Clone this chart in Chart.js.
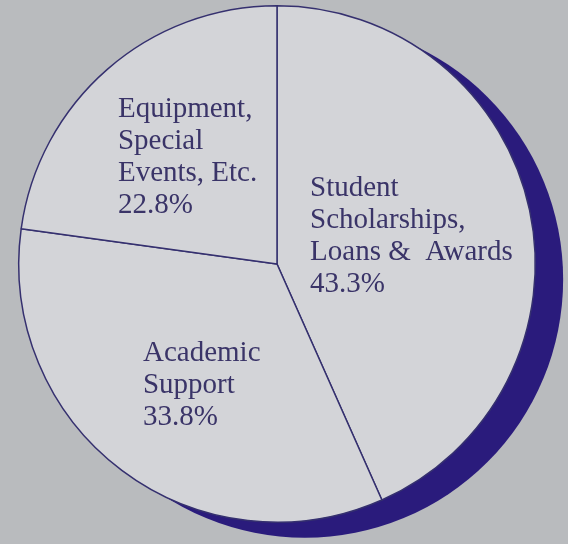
<!DOCTYPE html>
<html>
<head>
<meta charset="utf-8">
<script src="https://cdn.jsdelivr.net/npm/chart.js@4"></script>
<style>
  html, body { margin: 0; padding: 0; background: #b9bbbe; }
  #wrap { width: 568px; height: 544px; position: relative; }
</style>
</head>
<body>
<div id="wrap"><canvas id="c" width="568" height="544"></canvas></div>
<script>
// Data
const categories = [
  ["Student", "Scholarships,", "Loans &  Awards"],
  ["Academic", "Support"],
  ["Equipment,", "Special", "Events, Etc."]
];
const percentLabels = ["43.3%", "33.8%", "22.8%"];
const values = [43.3, 33.8, 22.8];

// Label anchors as fractions of the pie radius from its centre (left-aligned, first baseline)
const labelAnchors = [
  { fx: 0.128, fy: -0.262 },
  { fx: -0.519, fy: 0.374 },
  { fx: -0.616, fy: -0.570 }
];

const shadowPlugin = {
  id: 'shadowPlugin',
  beforeDatasetsDraw(chart, args, opts) {
    const arc = chart.getDatasetMeta(0).data[0];
    if (!arc) return;
    const ctx = chart.ctx;
    const r = arc.outerRadius;
    ctx.save();
    ctx.fillStyle = opts.color;
    ctx.beginPath();
    ctx.arc(arc.x + r * opts.dx, arc.y + r * opts.dy, r * opts.scale, 0, Math.PI * 2);
    ctx.fill();
    ctx.restore();
  }
};

const labelPlugin = {
  id: 'labelPlugin',
  afterDatasetsDraw(chart, args, opts) {
    const meta = chart.getDatasetMeta(0);
    const ctx = chart.ctx;
    ctx.save();
    ctx.fillStyle = opts.color;
    ctx.font = opts.font;
    ctx.textAlign = 'left';
    ctx.textBaseline = 'alphabetic';
    meta.data.forEach((arc, i) => {
      const r = arc.outerRadius;
      const a = labelAnchors[i];
      const x = arc.x + a.fx * r;
      let y = arc.y + a.fy * r;
      const lines = categories[i].concat([percentLabels[i]]);
      lines.forEach((ln, k) => {
        ctx.fillText(ln, x, y + k * opts.lineHeight);
      });
    });
    ctx.restore();
  }
};

new Chart(document.getElementById('c'), {
  type: 'pie',
  data: {
    labels: categories.map(c => c.join(' ')),
    datasets: [{
      data: values,
      backgroundColor: '#d3d4d8',
      borderColor: '#35306f',
      borderWidth: 1.5
    }]
  },
  options: {
    responsive: false,
    animation: false,
    layout: { padding: { left: 18, top: 5, right: 32, bottom: 21 } },
    plugins: {
      legend: { display: false },
      tooltip: { enabled: false },
      shadowPlugin: { color: '#2a1b7c', dx: 0.108, dy: 0.06, scale: 1.0 },
      labelPlugin: { color: '#3a3468', font: '29px "Liberation Serif"', lineHeight: 32 }
    }
  },
  plugins: [shadowPlugin, labelPlugin]
});
</script>
</body>
</html>
